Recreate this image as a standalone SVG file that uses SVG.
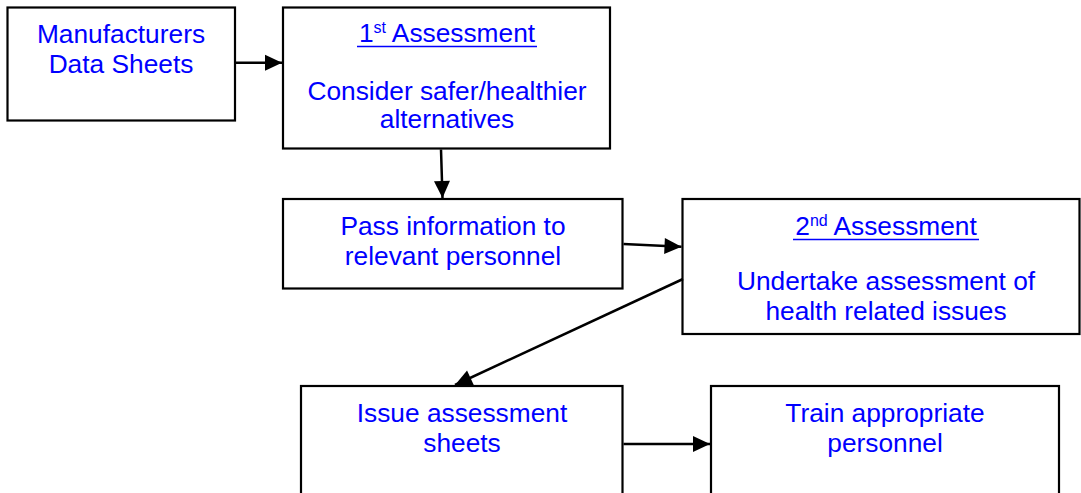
<svg xmlns="http://www.w3.org/2000/svg" width="1081" height="493" viewBox="0 0 1081 493">
  <style>
    .box { fill: #ffffff; stroke: #000000; stroke-width: 2.2; }
    .lbl { font-family: "Liberation Sans", Arial, sans-serif; font-size: 26.3px; fill: #0000ff; text-anchor: middle; }
    .sup { font-size: 16px; }
    .ul { stroke: #0000ff; stroke-width: 1.6; }
    .edge { stroke: #000000; stroke-width: 2.5; fill: none; marker-end: url(#arrow); }
  </style>
  <defs>
    <marker id="arrow" markerUnits="userSpaceOnUse" markerWidth="17" markerHeight="16" refX="17" refY="8" orient="auto" overflow="visible">
      <path d="M0,0 L17,8 L0,16 Z" fill="#000000"/>
    </marker>
  </defs>

  <rect width="1081" height="493" fill="#ffffff"/>

  <!-- process boxes -->
  <g id="datasheets">
    <rect class="box" x="7.5" y="7.5" width="227.5" height="113"/>
    <text class="lbl" x="121" y="43">Manufacturers</text>
    <text class="lbl" x="121" y="73">Data Sheets</text>
  </g>

  <g id="assessment1">
    <rect class="box" x="283" y="7.5" width="327" height="141"/>
    <text class="lbl" x="447" y="42">1<tspan class="sup" dy="-9">st</tspan><tspan dy="9"> Assessment</tspan></text>
    <line class="ul" x1="357" y1="46.5" x2="537" y2="46.5"/>
    <text class="lbl" x="447" y="99.5">Consider safer/healthier</text>
    <text class="lbl" x="447" y="128">alternatives</text>
  </g>

  <g id="passinfo">
    <rect class="box" x="283" y="199" width="339.5" height="89.5"/>
    <text class="lbl" x="453" y="235">Pass information to</text>
    <text class="lbl" x="453" y="265">relevant personnel</text>
  </g>

  <g id="assessment2">
    <rect class="box" x="682.5" y="199" width="397" height="135"/>
    <text class="lbl" x="886" y="235">2<tspan class="sup" dy="-9">nd</tspan><tspan dy="9"> Assessment</tspan></text>
    <line class="ul" x1="793" y1="239.5" x2="979" y2="239.5"/>
    <text class="lbl" x="886" y="290">Undertake assessment of</text>
    <text class="lbl" x="886" y="320">health related issues</text>
  </g>

  <g id="issuesheets">
    <rect class="box" x="301" y="386" width="321.5" height="130"/>
    <text class="lbl" x="462" y="422">Issue assessment</text>
    <text class="lbl" x="462" y="452">sheets</text>
  </g>

  <g id="train">
    <rect class="box" x="711" y="386" width="348" height="130"/>
    <text class="lbl" x="885" y="422">Train appropriate</text>
    <text class="lbl" x="885" y="452">personnel</text>
  </g>

  <!-- connectors -->
  <g id="connectors">
    <line class="edge" x1="236" y1="62.7" x2="282" y2="62.7"/>
    <line class="edge" x1="441" y1="149.5" x2="442.5" y2="198"/>
    <line class="edge" x1="623.5" y1="244" x2="681.5" y2="246.7"/>
    <line class="edge" x1="683" y1="279" x2="455" y2="385"/>
    <line class="edge" x1="623.5" y1="444" x2="710" y2="444"/>
  </g>
</svg>
